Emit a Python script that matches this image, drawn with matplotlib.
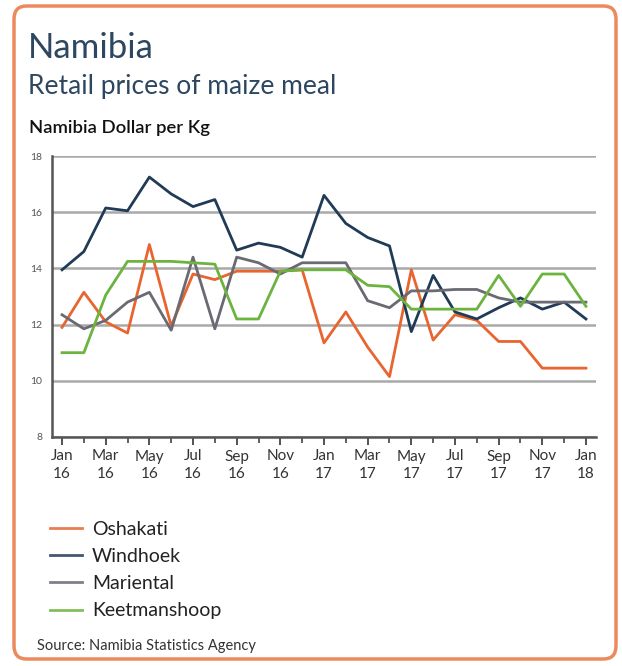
import matplotlib
matplotlib.use("Agg")
import matplotlib.pyplot as plt
from matplotlib.patches import FancyBboxPatch
from matplotlib.ticker import MultipleLocator

plt.rcParams['font.family'] = ['Lato', 'DejaVu Sans']

# monthly, Jan 2016 .. Jan 2018
months = ["Jan", "Feb", "Mar", "Apr", "May", "Jun", "Jul", "Aug", "Sep", "Oct", "Nov", "Dec"]
years = ["16", "17", "18"]

oshakati = [11.9, 13.15, 12.1, 11.7, 14.85, 11.95, 13.8, 13.6, 13.9, 13.9, 13.9, 13.95,
            11.35, 12.45, 11.2, 10.15, 13.95, 11.45, 12.35, 12.15, 11.4, 11.4, 10.45, 10.45, 10.45]
windhoek = [13.95, 14.6, 16.15, 16.05, 17.25, 16.65, 16.2, 16.45, 14.65, 14.9, 14.75, 14.4,
            16.6, 15.6, 15.1, 14.8, 11.75, 13.75, 12.45, 12.2, 12.6, 12.95, 12.55, 12.8, 12.2]
mariental = [12.35, 11.85, 12.15, 12.8, 13.15, 11.8, 14.4, 11.85, 14.4, 14.2, 13.8, 14.2,
             14.2, 14.2, 12.85, 12.6, 13.2, 13.2, 13.25, 13.25, 12.95, 12.8, 12.8, 12.8, 12.8]
keetmanshoop = [11.0, 11.0, 13.05, 14.25, 14.25, 14.25, 14.2, 14.15, 12.2, 12.2, 13.9, 13.95,
                13.95, 13.95, 13.4, 13.35, 12.55, 12.55, 12.55, 12.55, 13.75, 12.65, 13.8, 13.8, 12.65]

series = [("Oshakati", oshakati, "#e8652f"),
          ("Windhoek", windhoek, "#213b57"),
          ("Mariental", mariental, "#696a72"),
          ("Keetmanshoop", keetmanshoop, "#6cb33f")]

n = len(oshakati)
x = list(range(n))
tick_pos = x[::2]
tick_lab = [f"{months[i % 12]}\n{years[i // 12]}" for i in tick_pos]

fig = plt.figure(figsize=(6.22, 6.66), dpi=100)
W, H = 622, 666

# rounded orange frame
frame = FancyBboxPatch((14 / W, 7 / H), 602 / W, 653 / H,
                       boxstyle="round,pad=0,rounding_size=0.02",
                       transform=fig.transFigure, facecolor="none",
                       edgecolor="#ec8a5e", linewidth=2.5, zorder=5)
fig.patches.append(frame)

fig.text(28 / W, 1 - 58 / H, "Namibia", fontsize=25, color="#2d4760", va="baseline")
fig.text(28 / W, 1 - 94 / H, "Retail prices of maize meal", fontsize=19, color="#2d4760", va="baseline")
fig.text(29 / W, 1 - 133 / H, "Namibia Dollar per Kg", fontsize=13.3, color="#111111",
         fontweight="semibold", va="baseline")

ax = fig.add_axes([52 / W, 1 - 437 / H, 544 / W, 281 / H])
for name, vals, col in series:
    ax.plot(x, vals, color=col, lw=2.0, label=name, zorder=3)

ax.set_xlim(-0.46, 24.46)
ax.set_ylim(8, 18)
ax.yaxis.set_major_locator(MultipleLocator(2))
ax.grid(axis="y", color="#a9a9a9", lw=1.8, zorder=1)
ax.set_xticks(tick_pos)
ax.set_xticklabels(tick_lab, fontsize=11, color="#333333", linespacing=1.35)
ax.set_xticks(x, minor=True)
ax.tick_params(axis="x", which="major", length=6, width=1.3, color="#444444", pad=3)
ax.tick_params(axis="x", which="minor", length=4, width=1.2, color="#444444")
ax.tick_params(axis="y", length=0, labelsize=7.5, labelcolor="#555555", pad=7)
for s in ["top", "right"]:
    ax.spines[s].set_visible(False)
for s in ["left", "bottom"]:
    ax.spines[s].set_color("#555555")
    ax.spines[s].set_linewidth(1.8)

leg = fig.legend(loc="upper left", bbox_to_anchor=(50 / W, 1 - 521 / H), frameon=False,
                 fontsize=14, handlelength=1.65, handletextpad=0.5, labelspacing=0.52,
                 borderpad=0, borderaxespad=0)
for t in leg.get_texts():
    t.set_color("#222222")
for h in leg.legend_handles:
    h.set_alpha(0.85)

fig.text(37 / W, 1 - 650 / H, "Source: Namibia Statistics Agency", fontsize=10.5, color="#333333",
         va="baseline")

fig.savefig("out.png", dpi=100, facecolor="white")
